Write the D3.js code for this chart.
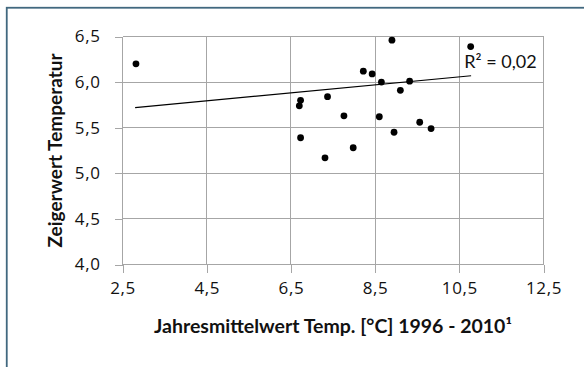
<!DOCTYPE html>
<html>
<head>
<meta charset="utf-8">
<script src="https://cdn.jsdelivr.net/npm/d3@7"></script>
<style>
  body { margin: 0; background: #fff; }
  .chart .grid line { stroke: #a6a6a6; shape-rendering: crispEdges; }
  .chart .axis path { display: none; }
  .chart .axis line { stroke: #a6a6a6; shape-rendering: crispEdges; }
  .chart .axis text { fill: #111; font-family: "Open Sans", sans-serif; font-size: 17px; letter-spacing: 0.6px; }
</style>
</head>
<body>
<div id="chart" class="chart"></div>
<script>
// data
const tempX = [2.82, 8.90, 10.77, 8.22, 8.43, 8.65, 9.32, 9.10, 6.73, 6.70,
               7.37, 7.76, 8.60, 9.56, 9.83, 8.95, 6.73, 7.98, 7.31];
const zeigerY = [6.20, 6.46, 6.39, 6.12, 6.09, 6.00, 6.01, 5.91, 5.80, 5.74,
                 5.84, 5.63, 5.62, 5.56, 5.49, 5.45, 5.39, 5.28, 5.17];
// linear trend line endpoints (Excel)
const trendX = [2.8, 10.78];
const trendY = [5.72, 6.07];
const xTicks = [2.5, 4.5, 6.5, 8.5, 10.5, 12.5];
const yTicks = [4.0, 4.5, 5.0, 5.5, 6.0, 6.5];
const r2Label = "R² = 0,02";

const W = 584, H = 367;
const margin = { top: 36.5, left: 122.5, right: 40.5, bottom: 102.5 };
const width = W - margin.left - margin.right;
const height = H - margin.top - margin.bottom;

const svg = d3.select('#chart').append('svg')
  .attr('width', W)
  .attr('height', H);

// outer frame (only left/top visible in the crop)
svg.append('rect')
  .attr('x', 6.75).attr('y', 7.75)
  .attr('width', 700).attr('height', 500)
  .attr('fill', 'none')
  .attr('stroke', '#41687f')
  .attr('stroke-width', 1.8);

const g = svg.append('g').attr('transform', `translate(${margin.left},${margin.top})`);

const x = d3.scaleLinear().domain([2.5, 12.5]).range([0, width]);
const y = d3.scaleLinear().domain([4.0, 6.5]).range([height, 0]);
const fmt = d => d3.format('.1f')(d).replace('.', ',');

// gridlines
const grid = g.append('g').attr('class', 'grid');
grid.selectAll('.gx').data(xTicks).enter().append('line')
  .attr('x1', d => x(d)).attr('x2', d => x(d))
  .attr('y1', 0).attr('y2', height);
grid.selectAll('.gy').data(yTicks).enter().append('line')
  .attr('x1', 0).attr('x2', width)
  .attr('y1', d => y(d)).attr('y2', d => y(d));

// axes
g.append('g')
  .attr('class', 'axis axis-x')
  .attr('transform', `translate(0,${height})`)
  .call(d3.axisBottom(x).tickValues(xTicks).tickFormat(fmt).tickSize(8).tickSizeOuter(0).tickPadding(9));
g.append('g')
  .attr('class', 'axis axis-y')
  .call(d3.axisLeft(y).tickValues(yTicks).tickFormat(fmt).tickSize(8).tickSizeOuter(0).tickPadding(14));

// trend line
g.append('line')
  .attr('x1', x(trendX[0])).attr('y1', y(trendY[0]))
  .attr('x2', x(trendX[1])).attr('y2', y(trendY[1]))
  .attr('stroke', '#000').attr('stroke-width', 1.1);

// points
g.selectAll('.dot').data(tempX).enter().append('circle')
  .attr('class', 'dot')
  .attr('cx', d => x(d))
  .attr('cy', (d, i) => y(zeigerY[i]))
  .attr('r', 3.4)
  .attr('fill', '#000');

// R² label
g.append('text')
  .attr('x', x(10.5) + 5)
  .attr('y', y(6.0) - 14)
  .attr('font-family', 'Lato, "Open Sans", sans-serif')
  .attr('font-size', 18)
  .attr('fill', '#111')
  .text(r2Label);

// axis titles
g.append('text')
  .attr('x', width / 2)
  .attr('y', height + 68)
  .attr('text-anchor', 'middle')
  .attr('font-family', 'Lato, "Open Sans", sans-serif')
  .attr('font-weight', 'bold')
  .attr('font-size', 19.5)
  .attr('fill', '#111')
  .text('Jahresmittelwert Temp. [°C] 1996 - 2010¹');

g.append('text')
  .attr('transform', `translate(${62 - margin.left},${height / 2}) rotate(-90)`)
  .attr('text-anchor', 'middle')
  .attr('font-family', 'Lato, "Open Sans", sans-serif')
  .attr('font-weight', 'bold')
  .attr('font-size', 19)
  .attr('fill', '#111')
  .text('Zeigerwert Temperatur');
</script>
</body>
</html>
